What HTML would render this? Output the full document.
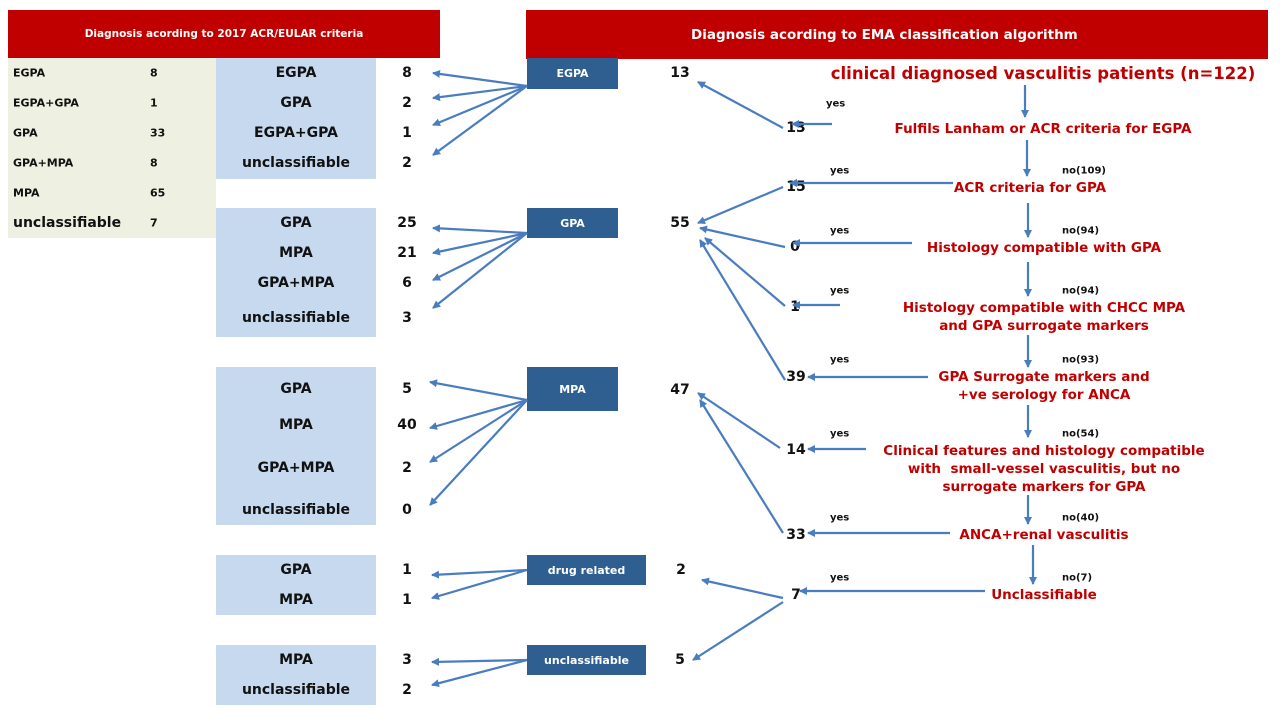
<!DOCTYPE html>
<html><head><meta charset="utf-8"><style>
body{margin:0;width:1280px;height:720px;background:#fff;position:relative;overflow:hidden;font-family:"DejaVu Sans","Liberation Sans",sans-serif;font-weight:bold}
.a{position:absolute;white-space:nowrap}
.red{background:#c00000;color:#fff}
.db{background:#2f5e91;color:#fff;font-size:11px;display:flex;align-items:center;justify-content:center}
.lb{background:#c6d9ef}
.t{position:absolute;transform:translateY(-50%);white-space:nowrap;color:#111}
.c{position:absolute;transform:translate(-50%,-50%);white-space:nowrap;color:#111;font-size:14px}
.r{position:absolute;transform:translate(-50%,-50%);white-space:nowrap;color:#c00000;font-size:13.5px;text-align:center;line-height:18px}
.s{font-size:11px}
</style></head><body>
<div class="a red" style="left:8px;top:10px;width:432px;height:48px;font-size:10.5px;display:flex;align-items:center;justify-content:center">Diagnosis acording to 2017 ACR/EULAR criteria</div>
<div class="a red" style="left:526px;top:10px;width:742px;height:49px;font-size:13.5px;display:flex;align-items:center;padding-left:165px;box-sizing:border-box">Diagnosis acording to EMA classification algorithm</div>
<div class="a" style="left:8px;top:58px;width:208px;height:180px;background:#eef0e2"></div>
<div class="t s" style="left:13px;top:73px">EGPA</div><div class="t s" style="left:150px;top:73px">8</div>
<div class="t s" style="left:13px;top:103px">EGPA+GPA</div><div class="t s" style="left:150px;top:103px">1</div>
<div class="t s" style="left:13px;top:133px">GPA</div><div class="t s" style="left:150px;top:133px">33</div>
<div class="t s" style="left:13px;top:163px">GPA+MPA</div><div class="t s" style="left:150px;top:163px">8</div>
<div class="t s" style="left:13px;top:193px">MPA</div><div class="t s" style="left:150px;top:193px">65</div>
<div class="t" style="left:13px;top:223px;font-size:14px">unclassifiable</div><div class="t s" style="left:150px;top:223px">7</div>

<div class="a lb" style="left:216px;top:58px;width:160px;height:121px"></div>
<div class="a lb" style="left:216px;top:208px;width:160px;height:129px"></div>
<div class="a lb" style="left:216px;top:367px;width:160px;height:158px"></div>
<div class="a lb" style="left:216px;top:555px;width:160px;height:60px"></div>
<div class="a lb" style="left:216px;top:645px;width:160px;height:60px"></div>

<div class="c" style="left:296px;top:73px">EGPA</div><div class="c" style="left:407px;top:73px">8</div>
<div class="c" style="left:296px;top:103px">GPA</div><div class="c" style="left:407px;top:103px">2</div>
<div class="c" style="left:296px;top:133px">EGPA+GPA</div><div class="c" style="left:407px;top:133px">1</div>
<div class="c" style="left:296px;top:163px">unclassifiable</div><div class="c" style="left:407px;top:163px">2</div>
<div class="c" style="left:296px;top:223px">GPA</div><div class="c" style="left:407px;top:223px">25</div>
<div class="c" style="left:296px;top:253px">MPA</div><div class="c" style="left:407px;top:253px">21</div>
<div class="c" style="left:296px;top:283px">GPA+MPA</div><div class="c" style="left:407px;top:283px">6</div>
<div class="c" style="left:296px;top:318px">unclassifiable</div><div class="c" style="left:407px;top:318px">3</div>
<div class="c" style="left:296px;top:389px">GPA</div><div class="c" style="left:407px;top:389px">5</div>
<div class="c" style="left:296px;top:425px">MPA</div><div class="c" style="left:407px;top:425px">40</div>
<div class="c" style="left:296px;top:468px">GPA+MPA</div><div class="c" style="left:407px;top:468px">2</div>
<div class="c" style="left:296px;top:510px">unclassifiable</div><div class="c" style="left:407px;top:510px">0</div>
<div class="c" style="left:296px;top:570px">GPA</div><div class="c" style="left:407px;top:570px">1</div>
<div class="c" style="left:296px;top:600px">MPA</div><div class="c" style="left:407px;top:600px">1</div>
<div class="c" style="left:296px;top:660px">MPA</div><div class="c" style="left:407px;top:660px">3</div>
<div class="c" style="left:296px;top:690px">unclassifiable</div><div class="c" style="left:407px;top:690px">2</div>

<div class="a db" style="left:527px;top:58px;width:91px;height:31px">EGPA</div>
<div class="a db" style="left:527px;top:208px;width:91px;height:30px">GPA</div>
<div class="a db" style="left:527px;top:367px;width:91px;height:44px">MPA</div>
<div class="a db" style="left:527px;top:555px;width:119px;height:30px">drug related</div>
<div class="a db" style="left:527px;top:645px;width:119px;height:30px">unclassifiable</div>

<div class="c" style="left:680px;top:73px">13</div>
<div class="c" style="left:680px;top:223px">55</div>
<div class="c" style="left:680px;top:390px">47</div>
<div class="c" style="left:681px;top:570px">2</div>
<div class="c" style="left:680px;top:660px">5</div>

<div class="c" style="left:796px;top:128px">13</div>
<div class="c" style="left:796px;top:187px">15</div>
<div class="c" style="left:795px;top:247px">0</div>
<div class="c" style="left:795px;top:307px">1</div>
<div class="c" style="left:796px;top:377px">39</div>
<div class="c" style="left:796px;top:450px">14</div>
<div class="c" style="left:796px;top:535px">33</div>
<div class="c" style="left:796px;top:595px">7</div>

<div class="r" style="left:1043px;top:74px;font-size:16.5px">clinical diagnosed vasculitis patients (n=122)</div>
<div class="r" style="left:1043px;top:129px">Fulfils Lanham or ACR criteria for EGPA</div>
<div class="r" style="left:1030px;top:188px">ACR criteria for GPA</div>
<div class="r" style="left:1044px;top:248px">Histology compatible with GPA</div>
<div class="r" style="left:1044px;top:317px">Histology compatible with CHCC MPA<br>and GPA surrogate markers</div>
<div class="r" style="left:1044px;top:386px">GPA Surrogate markers and<br>+ve serology for ANCA</div>
<div class="r" style="left:1044px;top:469px">Clinical features and histology compatible<br>with&nbsp; small-vessel vasculitis, but no<br>surrogate markers for GPA</div>
<div class="r" style="left:1044px;top:535px">ANCA+renal vasculitis</div>
<div class="r" style="left:1044px;top:595px">Unclassifiable</div>

<div class="t" style="left:826px;top:104px;font-size:10px">yes</div>
<div class="t" style="left:830px;top:171px;font-size:10px">yes</div><div class="t" style="left:1062px;top:171px;font-size:10px">no(109)</div>
<div class="t" style="left:830px;top:231px;font-size:10px">yes</div><div class="t" style="left:1062px;top:231px;font-size:10px">no(94)</div>
<div class="t" style="left:830px;top:291px;font-size:10px">yes</div><div class="t" style="left:1062px;top:291px;font-size:10px">no(94)</div>
<div class="t" style="left:830px;top:360px;font-size:10px">yes</div><div class="t" style="left:1062px;top:360px;font-size:10px">no(93)</div>
<div class="t" style="left:830px;top:434px;font-size:10px">yes</div><div class="t" style="left:1062px;top:434px;font-size:10px">no(54)</div>
<div class="t" style="left:830px;top:518px;font-size:10px">yes</div><div class="t" style="left:1062px;top:518px;font-size:10px">no(40)</div>
<div class="t" style="left:830px;top:578px;font-size:10px">yes</div><div class="t" style="left:1062px;top:578px;font-size:10px">no(7)</div>

<svg class="a" style="left:0;top:0" width="1280" height="720">
<defs><marker id="m" markerWidth="8" markerHeight="8" refX="7" refY="4" orient="auto" markerUnits="userSpaceOnUse"><path d="M0,0 L8,4 L0,8 Z" fill="#4a7cc0"/></marker></defs>
<g stroke="#4a7cc0" stroke-width="2.2" fill="none" marker-end="url(#m)">
<line x1="527" y1="86" x2="433" y2="73"/><line x1="527" y1="86" x2="433" y2="98"/><line x1="527" y1="86" x2="433" y2="125"/><line x1="527" y1="86" x2="433" y2="155"/>
<line x1="527" y1="233" x2="433" y2="228"/><line x1="527" y1="233" x2="433" y2="253"/><line x1="527" y1="233" x2="433" y2="280"/><line x1="527" y1="233" x2="433" y2="308"/>
<line x1="527" y1="400" x2="430" y2="382"/><line x1="527" y1="400" x2="430" y2="428"/><line x1="527" y1="400" x2="430" y2="462"/><line x1="527" y1="400" x2="430" y2="505"/>
<line x1="527" y1="570" x2="432" y2="575"/><line x1="527" y1="570" x2="432" y2="598"/>
<line x1="527" y1="660" x2="432" y2="662"/><line x1="527" y1="660" x2="432" y2="685"/>
<line x1="1025" y1="85" x2="1025" y2="117"/><line x1="1027" y1="140" x2="1027" y2="176"/><line x1="1028" y1="203" x2="1028" y2="237"/><line x1="1028" y1="262" x2="1028" y2="296"/><line x1="1028" y1="335" x2="1028" y2="367"/><line x1="1028" y1="405" x2="1028" y2="437"/><line x1="1028" y1="495" x2="1028" y2="524"/><line x1="1033" y1="545" x2="1033" y2="584"/>
<line x1="832" y1="124" x2="792" y2="124"/>
<line x1="953" y1="183" x2="790" y2="183"/>
<line x1="912" y1="243" x2="793" y2="243"/>
<line x1="840" y1="305" x2="793" y2="305"/>
<line x1="928" y1="377" x2="808" y2="377"/>
<line x1="866" y1="449" x2="808" y2="449"/>
<line x1="950" y1="533" x2="808" y2="533"/>
<line x1="985" y1="591" x2="800" y2="591"/>
<line x1="783" y1="128" x2="698" y2="82"/>
<line x1="783" y1="187" x2="698" y2="223"/>
<line x1="785" y1="247" x2="700" y2="228"/>
<line x1="785" y1="306" x2="705" y2="238"/>
<line x1="785" y1="380" x2="700" y2="240"/>
<line x1="780" y1="448" x2="698" y2="393"/>
<line x1="783" y1="533" x2="700" y2="400"/>
<line x1="783" y1="598" x2="702" y2="580"/>
<line x1="783" y1="602" x2="693" y2="660"/>
</g></svg>
</body></html>
